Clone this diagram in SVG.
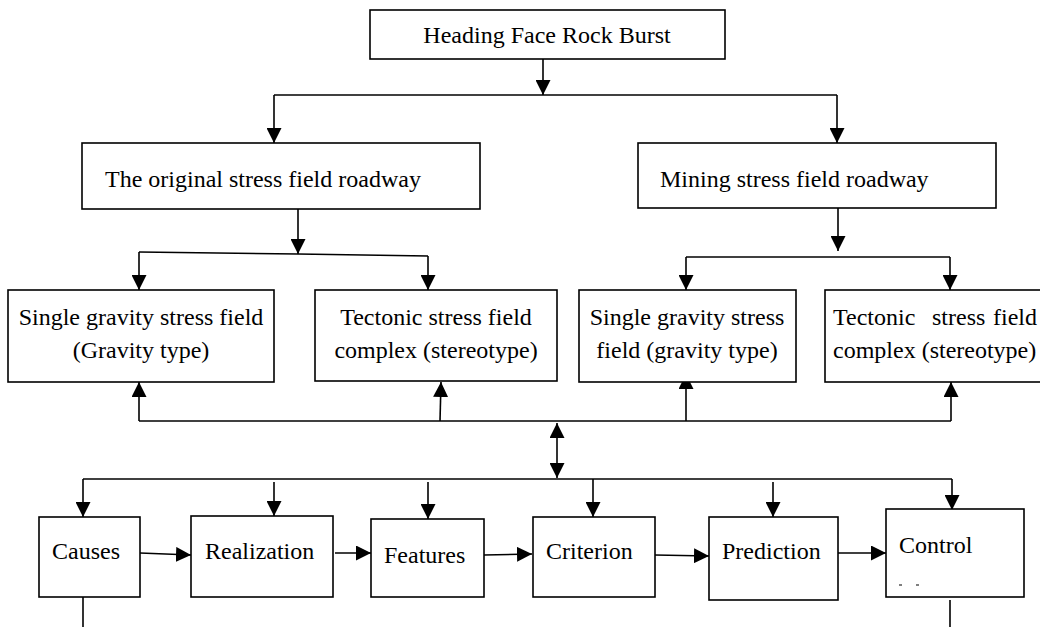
<svg xmlns="http://www.w3.org/2000/svg" width="1040" height="627" viewBox="0 0 1040 627">
<style>
  .box { fill: #fff; stroke: #000; stroke-width: 1.6; }
  .t { font-family: "Liberation Serif", "Times New Roman", serif; font-size: 24px; fill: #000; }
  .c { text-anchor: middle; }
  .ln { fill: none; stroke: #000; stroke-width: 1.6; }
  .ar { fill: none; stroke: #000; stroke-width: 1.6; marker-end: url(#ah); }
</style>
<defs>
  <marker id="ah" markerUnits="userSpaceOnUse" markerWidth="15" markerHeight="15" refX="15" refY="7.5" orient="auto">
    <path d="M0,0 L15,7.5 L0,15 Z" fill="#000"/>
  </marker>
  <marker id="ahs" markerUnits="userSpaceOnUse" markerWidth="15" markerHeight="15" refX="15" refY="7.5" orient="auto-start-reverse">
    <path d="M0,0 L15,7.5 L0,15 Z" fill="#000"/>
  </marker>
</defs>
<rect width="1040" height="627" fill="#fff"/>

<g id="connectors">
  <!-- top to level 1 -->
  <path class="ar" d="M543,59 L543,95"/>
  <path class="ln" d="M274,95 L837,95"/>
  <path class="ar" d="M274,95 L274,143"/>
  <path class="ar" d="M837,95 L837,143"/>
  <!-- original roadway split -->
  <path class="ar" d="M298,209 L298,254"/>
  <path class="ln" d="M139,252 L298,254 L428,256"/>
  <path class="ar" d="M139,252 L139,290"/>
  <path class="ar" d="M428,256 L428,290"/>
  <!-- mining roadway split -->
  <path class="ar" d="M838,205 L838,251"/>
  <path class="ln" d="M686,257 L950,257"/>
  <path class="ar" d="M686,257 L686,290"/>
  <path class="ar" d="M950,257 L950,290"/>
  <!-- feedback line -->
  <path class="ln" d="M139,421 L951,421"/>
  <path class="ar" d="M139,421 L139,382"/>
  <path class="ar" d="M440,421 L441,382"/>
  <path class="ar" d="M686,421 L686,374"/>
  <path class="ar" d="M951,421 L951,382"/>
  <!-- double arrow -->
  <path d="M557,423 L557,478" fill="none" stroke="#000" stroke-width="1.6" marker-start="url(#ahs)" marker-end="url(#ah)"/>
  <!-- distribution line -->
  <path class="ln" d="M83,479 L952,479"/>
  <path class="ar" d="M83,479 L83,517"/>
  <path class="ar" d="M274,482 L274,516"/>
  <path class="ar" d="M428,482 L428,519"/>
  <path class="ar" d="M593,479 L593,517"/>
  <path class="ar" d="M773,482 L773,517"/>
  <path class="ar" d="M952,479 L952,510"/>
  <!-- horizontal chain -->
  <path class="ar" d="M140,553 L191,555"/>
  <path class="ar" d="M335,553 L371,553"/>
  <path class="ar" d="M484,555 L532,554"/>
  <path class="ar" d="M655,555 L709,556"/>
  <path class="ar" d="M838,553 L886,553"/>
  <!-- lines off bottom -->
  <path class="ln" d="M83,595 L83,627"/>
  <path class="ln" d="M950,600 L950,627"/>
</g>

<g id="n-heading">
  <rect class="box" x="370" y="10" width="355" height="49"/>
  <text class="t c" x="547" y="43">Heading Face Rock Burst</text>
</g>
<g id="n-original">
  <rect class="box" x="82" y="143" width="398" height="66"/>
  <text class="t" x="105" y="187">The original stress field roadway</text>
</g>
<g id="n-mining">
  <rect class="box" x="638" y="143" width="358" height="65"/>
  <text class="t" x="660" y="187">Mining stress field roadway</text>
</g>
<g id="n-gravity1">
  <rect class="box" x="8" y="290" width="266" height="92"/>
  <text class="t c" x="141" y="325">Single gravity stress field</text>
  <text class="t c" x="141" y="358">(Gravity type)</text>
</g>
<g id="n-tectonic1">
  <rect class="box" x="315" y="290" width="242" height="91"/>
  <text class="t c" x="436" y="325">Tectonic stress field</text>
  <text class="t c" x="436" y="358">complex (stereotype)</text>
</g>
<g id="n-gravity2">
  <rect class="box" x="579" y="290" width="217" height="92"/>
  <text class="t c" x="687" y="325">Single gravity stress</text>
  <text class="t c" x="687" y="358">field (gravity type)</text>
</g>
<g id="n-tectonic2">
  <rect class="box" x="825" y="290" width="240" height="92"/>
  <text class="t" y="325"><tspan x="833">Tectonic</tspan><tspan x="932">stress</tspan><tspan x="993">field</tspan></text>
  <text class="t" x="833" y="358">complex (stereotype)</text>
</g>
<g id="n-causes">
  <rect class="box" x="39" y="517" width="101" height="80"/>
  <text class="t" x="52" y="559">Causes</text>
</g>
<g id="n-realization">
  <rect class="box" x="191" y="516" width="142" height="81"/>
  <text class="t" x="205" y="559">Realization</text>
</g>
<g id="n-features">
  <rect class="box" x="371" y="519" width="113" height="78"/>
  <text class="t" x="384" y="563">Features</text>
</g>
<g id="n-criterion">
  <rect class="box" x="533" y="517" width="122" height="80"/>
  <text class="t" x="546" y="559">Criterion</text>
</g>
<g id="n-prediction">
  <rect class="box" x="709" y="517" width="129" height="83"/>
  <text class="t" x="722" y="559">Prediction</text>
</g>
<g id="n-control">
  <rect class="box" x="886" y="509" width="138" height="88"/>
  <text class="t" x="899" y="553">Control</text>
  <path d="M899,585 L902,585 M916,585 L919,585" stroke="#000" stroke-width="1.2"/>
</g>
</svg>
